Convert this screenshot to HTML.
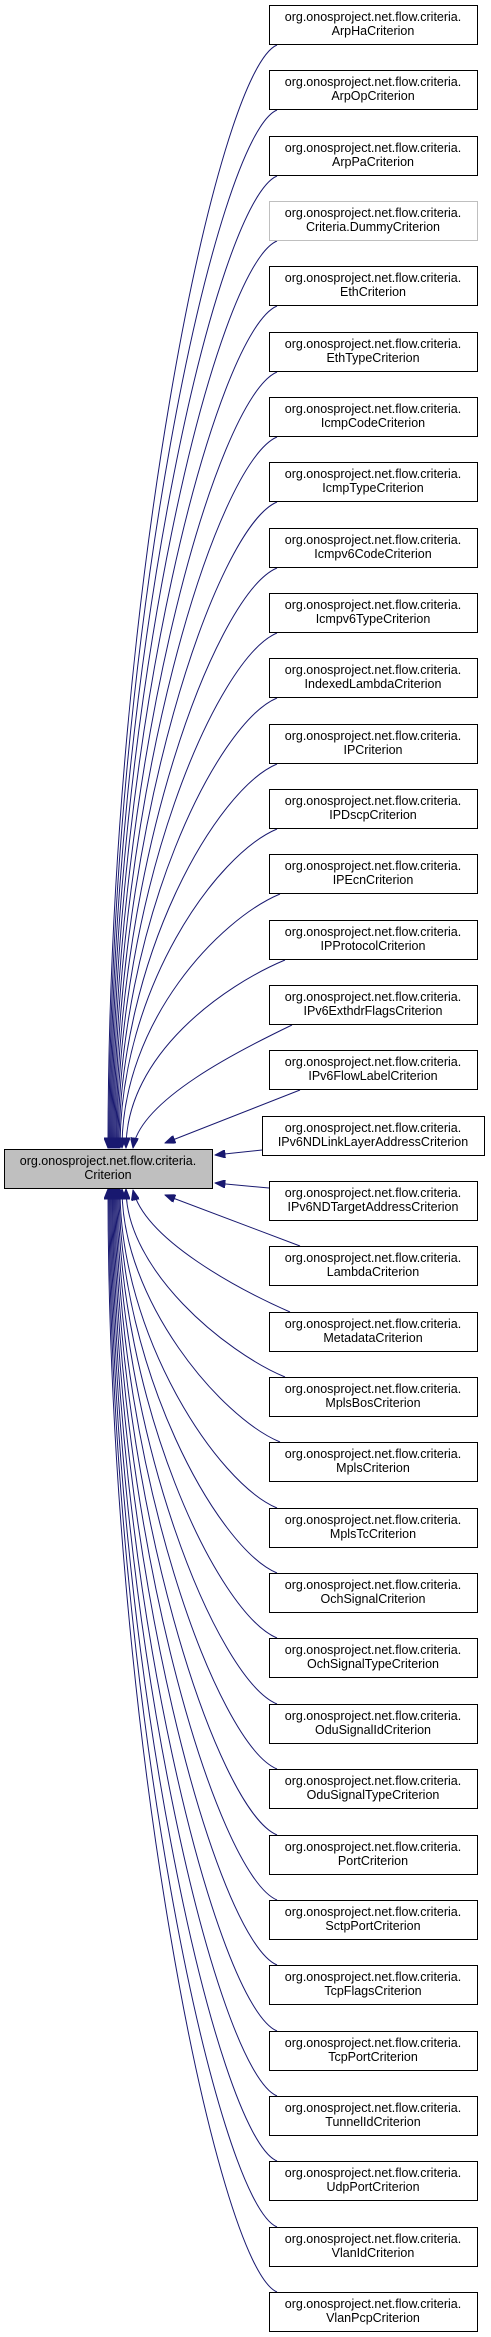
<!DOCTYPE html>
<html><head><meta charset="utf-8"><style>
html,body{margin:0;padding:0;background:#fff}
svg{display:block}
text{font-family:"Liberation Sans",sans-serif;font-size:12.5px;fill:#000;text-anchor:middle}
rect{fill:#fff;stroke:#000;stroke-width:1}
path.e{fill:none;stroke:#191970;stroke-width:1}
</style></head><body>
<svg width="491" height="2337" viewBox="0 0 491 2337" xmlns="http://www.w3.org/2000/svg">
<defs><marker id="a" viewBox="0 0 10 8" refX="10" refY="4" markerWidth="11" markerHeight="8" markerUnits="userSpaceOnUse" orient="auto"><path d="M0,0 L10,4 L0,8 z" fill="#191970" stroke="#191970"/></marker></defs>
<g marker-end="url(#a)">
<path class="e" d="M277,45 C217,70 108,597 108,1148"/>
<path class="e" d="M277,110 C217,135 109,629 109,1148"/>
<path class="e" d="M277,176 C217,201 110,662 110,1148"/>
<path class="e" d="M277,241 C217,266 111,694 111,1148"/>
<path class="e" d="M277,306 C217,331 112,727 112,1148"/>
<path class="e" d="M277,372 C217,397 113,760 113,1148"/>
<path class="e" d="M277,437 C217,462 114,792 114,1148"/>
<path class="e" d="M277,502 C217,527 115,825 115,1148"/>
<path class="e" d="M277,568 C217,593 116,858 116,1148"/>
<path class="e" d="M277,633 C217,658 117,890 117,1148"/>
<path class="e" d="M277,698 C217,723 118,923 118,1148"/>
<path class="e" d="M277,764 C217,789 119,956 119,1148"/>
<path class="e" d="M277,829 C217,854 120,988 120,1148"/>
<path class="e" d="M280,894 C220,919 122,1021 122,1148"/>
<path class="e" d="M285,960 C225,985 126,1054 126,1148"/>
<path class="e" d="M292,1025 C240,1050 140,1100 133,1148"/>
<path class="e" d="M300,1090 L165,1143"/>
<path class="e" d="M262,1150 L215,1155"/>
<path class="e" d="M269,1188 L215,1183"/>
<path class="e" d="M300,1246 L165,1195"/>
<path class="e" d="M290,1312 C240,1290 145,1240 133,1190"/>
<path class="e" d="M285,1377 C225,1352 126,1270 126,1189"/>
<path class="e" d="M280,1442 C220,1417 122,1300 122,1189"/>
<path class="e" d="M277,1508 C217,1483 120,1335 120,1189"/>
<path class="e" d="M277,1573 C217,1548 119,1368 119,1189"/>
<path class="e" d="M277,1638 C217,1613 118,1400 118,1189"/>
<path class="e" d="M277,1704 C217,1679 117,1433 117,1189"/>
<path class="e" d="M277,1769 C217,1744 116,1466 116,1189"/>
<path class="e" d="M277,1835 C217,1810 115,1499 115,1189"/>
<path class="e" d="M277,1900 C217,1875 114,1531 114,1189"/>
<path class="e" d="M277,1965 C217,1940 113,1564 113,1189"/>
<path class="e" d="M277,2031 C217,2006 112,1597 112,1189"/>
<path class="e" d="M277,2096 C217,2071 111,1629 111,1189"/>
<path class="e" d="M277,2161 C217,2136 110,1662 110,1189"/>
<path class="e" d="M277,2227 C217,2202 109,1695 109,1189"/>
<path class="e" d="M277,2292 C217,2267 108,1727 108,1189"/>
</g>
<g><rect x="4.5" y="1149.5" width="208" height="39" style="fill:#bfbfbf"/><text x="108" y="1165">org.onosproject.net.flow.criteria.</text><text x="108" y="1179">Criterion</text></g>
<g transform="translate(0,5)"><rect x="269.5" y="0.5" width="208" height="39"/><text x="373" y="16">org.onosproject.net.flow.criteria.</text><text x="373" y="30">ArpHaCriterion</text></g>
<g transform="translate(0,70)"><rect x="269.5" y="0.5" width="208" height="39"/><text x="373" y="16">org.onosproject.net.flow.criteria.</text><text x="373" y="30">ArpOpCriterion</text></g>
<g transform="translate(0,136)"><rect x="269.5" y="0.5" width="208" height="39"/><text x="373" y="16">org.onosproject.net.flow.criteria.</text><text x="373" y="30">ArpPaCriterion</text></g>
<g transform="translate(0,201)"><rect x="269.5" y="0.5" width="208" height="39" style="stroke:#bfbfbf"/><text x="373" y="16">org.onosproject.net.flow.criteria.</text><text x="373" y="30">Criteria.DummyCriterion</text></g>
<g transform="translate(0,266)"><rect x="269.5" y="0.5" width="208" height="39"/><text x="373" y="16">org.onosproject.net.flow.criteria.</text><text x="373" y="30">EthCriterion</text></g>
<g transform="translate(0,332)"><rect x="269.5" y="0.5" width="208" height="39"/><text x="373" y="16">org.onosproject.net.flow.criteria.</text><text x="373" y="30">EthTypeCriterion</text></g>
<g transform="translate(0,397)"><rect x="269.5" y="0.5" width="208" height="39"/><text x="373" y="16">org.onosproject.net.flow.criteria.</text><text x="373" y="30">IcmpCodeCriterion</text></g>
<g transform="translate(0,462)"><rect x="269.5" y="0.5" width="208" height="39"/><text x="373" y="16">org.onosproject.net.flow.criteria.</text><text x="373" y="30">IcmpTypeCriterion</text></g>
<g transform="translate(0,528)"><rect x="269.5" y="0.5" width="208" height="39"/><text x="373" y="16">org.onosproject.net.flow.criteria.</text><text x="373" y="30">Icmpv6CodeCriterion</text></g>
<g transform="translate(0,593)"><rect x="269.5" y="0.5" width="208" height="39"/><text x="373" y="16">org.onosproject.net.flow.criteria.</text><text x="373" y="30">Icmpv6TypeCriterion</text></g>
<g transform="translate(0,658)"><rect x="269.5" y="0.5" width="208" height="39"/><text x="373" y="16">org.onosproject.net.flow.criteria.</text><text x="373" y="30">IndexedLambdaCriterion</text></g>
<g transform="translate(0,724)"><rect x="269.5" y="0.5" width="208" height="39"/><text x="373" y="16">org.onosproject.net.flow.criteria.</text><text x="373" y="30">IPCriterion</text></g>
<g transform="translate(0,789)"><rect x="269.5" y="0.5" width="208" height="39"/><text x="373" y="16">org.onosproject.net.flow.criteria.</text><text x="373" y="30">IPDscpCriterion</text></g>
<g transform="translate(0,854)"><rect x="269.5" y="0.5" width="208" height="39"/><text x="373" y="16">org.onosproject.net.flow.criteria.</text><text x="373" y="30">IPEcnCriterion</text></g>
<g transform="translate(0,920)"><rect x="269.5" y="0.5" width="208" height="39"/><text x="373" y="16">org.onosproject.net.flow.criteria.</text><text x="373" y="30">IPProtocolCriterion</text></g>
<g transform="translate(0,985)"><rect x="269.5" y="0.5" width="208" height="39"/><text x="373" y="16">org.onosproject.net.flow.criteria.</text><text x="373" y="30">IPv6ExthdrFlagsCriterion</text></g>
<g transform="translate(0,1050)"><rect x="269.5" y="0.5" width="208" height="39"/><text x="373" y="16">org.onosproject.net.flow.criteria.</text><text x="373" y="30">IPv6FlowLabelCriterion</text></g>
<g transform="translate(0,1116)"><rect x="262.5" y="0.5" width="222" height="39"/><text x="373" y="16">org.onosproject.net.flow.criteria.</text><text x="373" y="30">IPv6NDLinkLayerAddressCriterion</text></g>
<g transform="translate(0,1181)"><rect x="269.5" y="0.5" width="208" height="39"/><text x="373" y="16">org.onosproject.net.flow.criteria.</text><text x="373" y="30">IPv6NDTargetAddressCriterion</text></g>
<g transform="translate(0,1246)"><rect x="269.5" y="0.5" width="208" height="39"/><text x="373" y="16">org.onosproject.net.flow.criteria.</text><text x="373" y="30">LambdaCriterion</text></g>
<g transform="translate(0,1312)"><rect x="269.5" y="0.5" width="208" height="39"/><text x="373" y="16">org.onosproject.net.flow.criteria.</text><text x="373" y="30">MetadataCriterion</text></g>
<g transform="translate(0,1377)"><rect x="269.5" y="0.5" width="208" height="39"/><text x="373" y="16">org.onosproject.net.flow.criteria.</text><text x="373" y="30">MplsBosCriterion</text></g>
<g transform="translate(0,1442)"><rect x="269.5" y="0.5" width="208" height="39"/><text x="373" y="16">org.onosproject.net.flow.criteria.</text><text x="373" y="30">MplsCriterion</text></g>
<g transform="translate(0,1508)"><rect x="269.5" y="0.5" width="208" height="39"/><text x="373" y="16">org.onosproject.net.flow.criteria.</text><text x="373" y="30">MplsTcCriterion</text></g>
<g transform="translate(0,1573)"><rect x="269.5" y="0.5" width="208" height="39"/><text x="373" y="16">org.onosproject.net.flow.criteria.</text><text x="373" y="30">OchSignalCriterion</text></g>
<g transform="translate(0,1638)"><rect x="269.5" y="0.5" width="208" height="39"/><text x="373" y="16">org.onosproject.net.flow.criteria.</text><text x="373" y="30">OchSignalTypeCriterion</text></g>
<g transform="translate(0,1704)"><rect x="269.5" y="0.5" width="208" height="39"/><text x="373" y="16">org.onosproject.net.flow.criteria.</text><text x="373" y="30">OduSignalIdCriterion</text></g>
<g transform="translate(0,1769)"><rect x="269.5" y="0.5" width="208" height="39"/><text x="373" y="16">org.onosproject.net.flow.criteria.</text><text x="373" y="30">OduSignalTypeCriterion</text></g>
<g transform="translate(0,1835)"><rect x="269.5" y="0.5" width="208" height="39"/><text x="373" y="16">org.onosproject.net.flow.criteria.</text><text x="373" y="30">PortCriterion</text></g>
<g transform="translate(0,1900)"><rect x="269.5" y="0.5" width="208" height="39"/><text x="373" y="16">org.onosproject.net.flow.criteria.</text><text x="373" y="30">SctpPortCriterion</text></g>
<g transform="translate(0,1965)"><rect x="269.5" y="0.5" width="208" height="39"/><text x="373" y="16">org.onosproject.net.flow.criteria.</text><text x="373" y="30">TcpFlagsCriterion</text></g>
<g transform="translate(0,2031)"><rect x="269.5" y="0.5" width="208" height="39"/><text x="373" y="16">org.onosproject.net.flow.criteria.</text><text x="373" y="30">TcpPortCriterion</text></g>
<g transform="translate(0,2096)"><rect x="269.5" y="0.5" width="208" height="39"/><text x="373" y="16">org.onosproject.net.flow.criteria.</text><text x="373" y="30">TunnelIdCriterion</text></g>
<g transform="translate(0,2161)"><rect x="269.5" y="0.5" width="208" height="39"/><text x="373" y="16">org.onosproject.net.flow.criteria.</text><text x="373" y="30">UdpPortCriterion</text></g>
<g transform="translate(0,2227)"><rect x="269.5" y="0.5" width="208" height="39"/><text x="373" y="16">org.onosproject.net.flow.criteria.</text><text x="373" y="30">VlanIdCriterion</text></g>
<g transform="translate(0,2292)"><rect x="269.5" y="0.5" width="208" height="39"/><text x="373" y="16">org.onosproject.net.flow.criteria.</text><text x="373" y="30">VlanPcpCriterion</text></g>
</svg>
</body></html>
